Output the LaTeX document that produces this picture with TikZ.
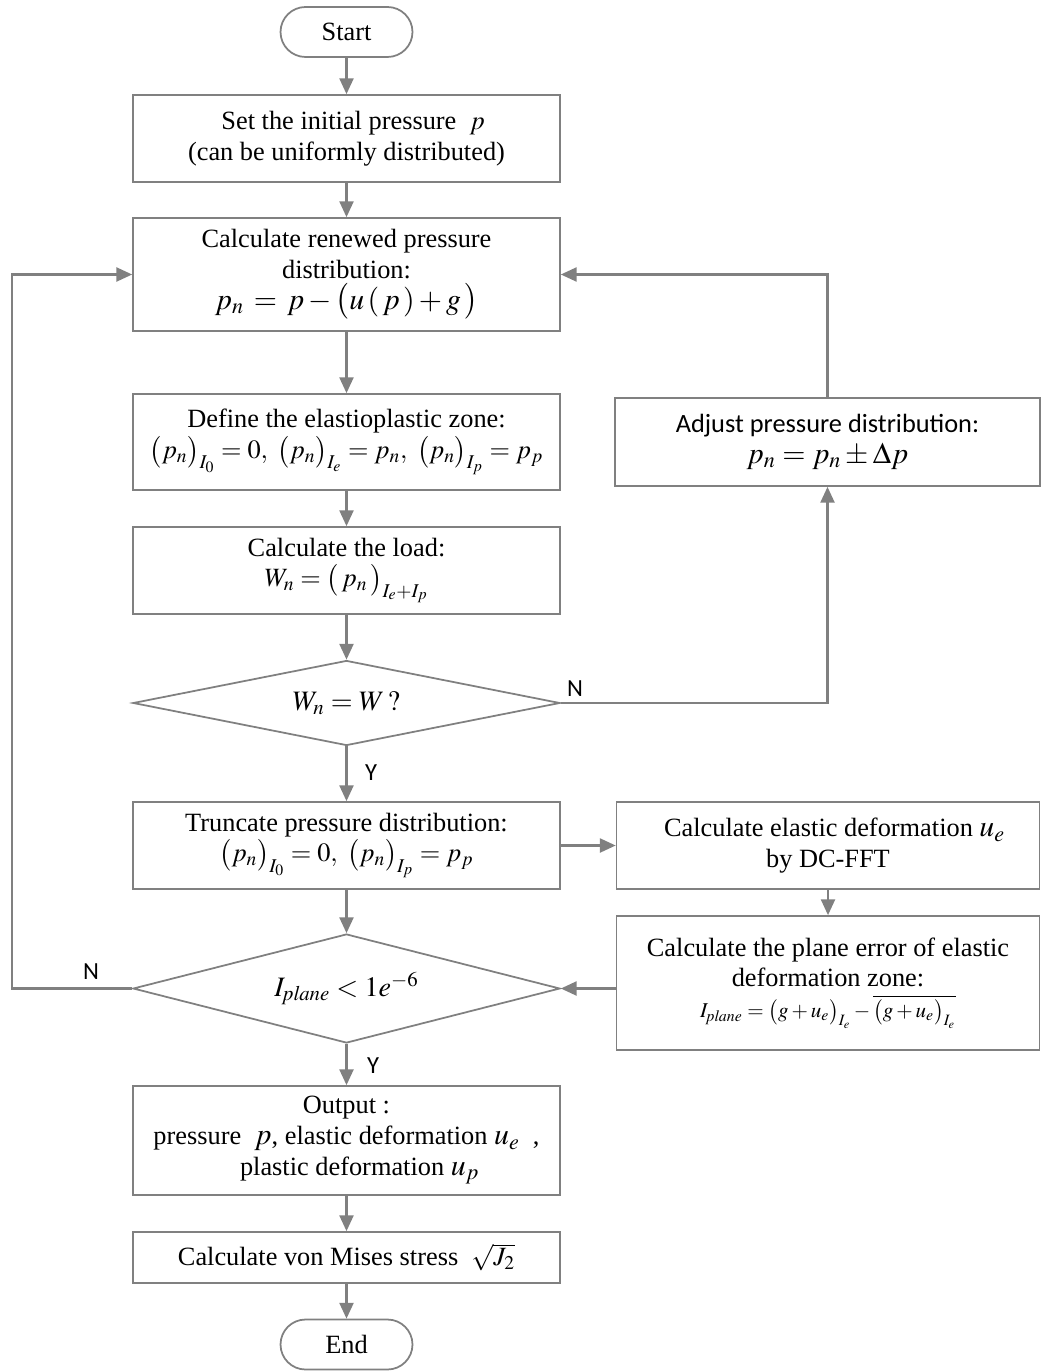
\documentclass[tikz,border=0pt]{standalone}
\usepackage{mathptmx}
\usepackage{fontspec}
\setmainfont{Liberation Serif}
\newfontfamily\sansfont{Carlito}
\usetikzlibrary{arrows.meta,shapes.geometric}

\tikzset{
  box/.style={draw=black!50, line width=1pt, minimum width=8.54cm, align=center,
              inner sep=2pt, font=\fontsize{15}{17.5}\selectfont},
  term/.style={box, rounded corners=0.5cm, minimum width=2.64cm, minimum height=1cm},
  cond/.style={draw=black!50, line width=1pt, diamond, aspect=5, inner sep=0pt,
               minimum width=8.54cm, font=\fontsize{16}{19}\selectfont},
  arr/.style={draw=black!50, line width=1.2pt, -{Triangle[length=9pt,width=8pt]}},
  lbl/.style={font=\sansfont\fontsize{14}{16}\selectfont}
}

\begin{document}
\begin{tikzpicture}[x=0.02cm,y=-0.02cm]
    \useasboundingbox (0,0) rectangle (1043,1371);

    \node[term] (start) at (346.5,32) {Start};
    \node[box, minimum height=1.74cm] (init) at (346.5,138.5)
        {\ \ Set the initial pressure \ $p$\\(can be uniformly distributed)};
    \node[box, minimum height=2.26cm] (renew) at (346.5,274.5)
        {Calculate renewed pressure\\distribution:\\
         {\fontsize{17}{20}\selectfont$p_{n}\,=\,p-\bigl(u\,(\,p\,)+g\,\bigr)$}};
    \node[box, minimum height=1.92cm] (zone) at (346.5,442)
        {Define the elastioplastic zone:\\
         $\bigl(p_n\bigr)_{I_0}=0,\ \bigl(p_n\bigr)_{I_e}=p_n,\ \bigl(p_n\bigr)_{I_p}=p_p$};
    \node[box, minimum height=1.74cm] (load) at (346.5,570.5)
        {Calculate the load:\\$W_n=\bigl(\,p_n\,\bigr)_{I_e+I_p}$};
    \node[cond, minimum height=1.7cm] (check) at (346.5,703) {$W_n=W\,?$};
    \node[box, minimum width=8.5cm, minimum height=1.76cm] (adjust) at (827.5,442)
        {\sansfont Adjust pressure distribution:\\
         {\fontsize{17}{20}\selectfont$p_n=p_n\pm\Delta p$}};
    \node[box, minimum height=1.74cm] (trunc) at (346.5,845.5)
        {Truncate pressure distribution:\\
         $\bigl(p_n\bigr)_{I_0}=0,\ \bigl(p_n\bigr)_{I_p}=p_p$};
    \node[box, minimum width=8.46cm, minimum height=1.74cm] (fft) at (828,845.5)
        {\ \ Calculate elastic deformation {\fontsize{17}{20}\selectfont$u_e$}\\by DC-FFT};
    \node[box, minimum width=8.46cm, minimum height=2.68cm] (plane) at (828,983)
        {Calculate the plane error of elastic\\deformation zone:\\
         {\fontsize{12}{14}\selectfont$I_{\mathit{plane}}=\bigl(g+u_e\bigr)_{I_e}-\overline{\bigl(g+u_e\bigr)_{I_e}}$}};
    \node[cond, minimum height=2.18cm] (tol) at (346.5,988.5)
        {$I_{\mathit{plane}}<1e^{-6}$};
    \node[box, minimum height=2.18cm] (output) at (346.5,1140.5)
        {Output :\\pressure \ {\fontsize{17}{20}\selectfont$p$}, elastic deformation
         {\fontsize{17}{20}\selectfont$u_e$} \ ,\\
         \ \ \ \ plastic deformation {\fontsize{17}{20}\selectfont$u_p$}};
    \node[box, minimum height=1.02cm] (mises) at (346.5,1257.5)
        {Calculate von Mises stress \ $\sqrt{J_2}$};
    \node[term] (end) at (346.5,1344.5) {End};

    \coordinate (loopL) at (12,988.5);

    \node[lbl] (nA) at (575,689) {N};
    \node[lbl] (yA) at (371,773) {Y};
    \node[lbl] (nB) at (91,972) {N};
    \node[lbl] (yB) at (373,1066) {Y};

    \draw[arr] (start) -- (init);
    \draw[arr] (init) -- (renew);
    \draw[arr] (renew) -- (zone);
    \draw[arr] (zone) -- (load);
    \draw[arr] (load) -- (check);
    \draw[arr] (check) -- (trunc);
    \draw[arr] (check.east) -| (adjust.south);
    \draw[arr] (adjust.north) |- (renew.east);
    \draw[arr] (trunc) -- (fft);
    \draw[arr] (fft) -- (plane);
    \draw[arr] (plane.west |- tol.east) -- (tol.east);
    \draw[arr] (trunc) -- (tol);
    \draw[arr] (tol.west) -- (loopL) |- (renew.west);
    \draw[arr] (tol) -- (output);
    \draw[arr] (output) -- (mises);
    \draw[arr] (mises) -- (end);

\end{tikzpicture}
\end{document}
